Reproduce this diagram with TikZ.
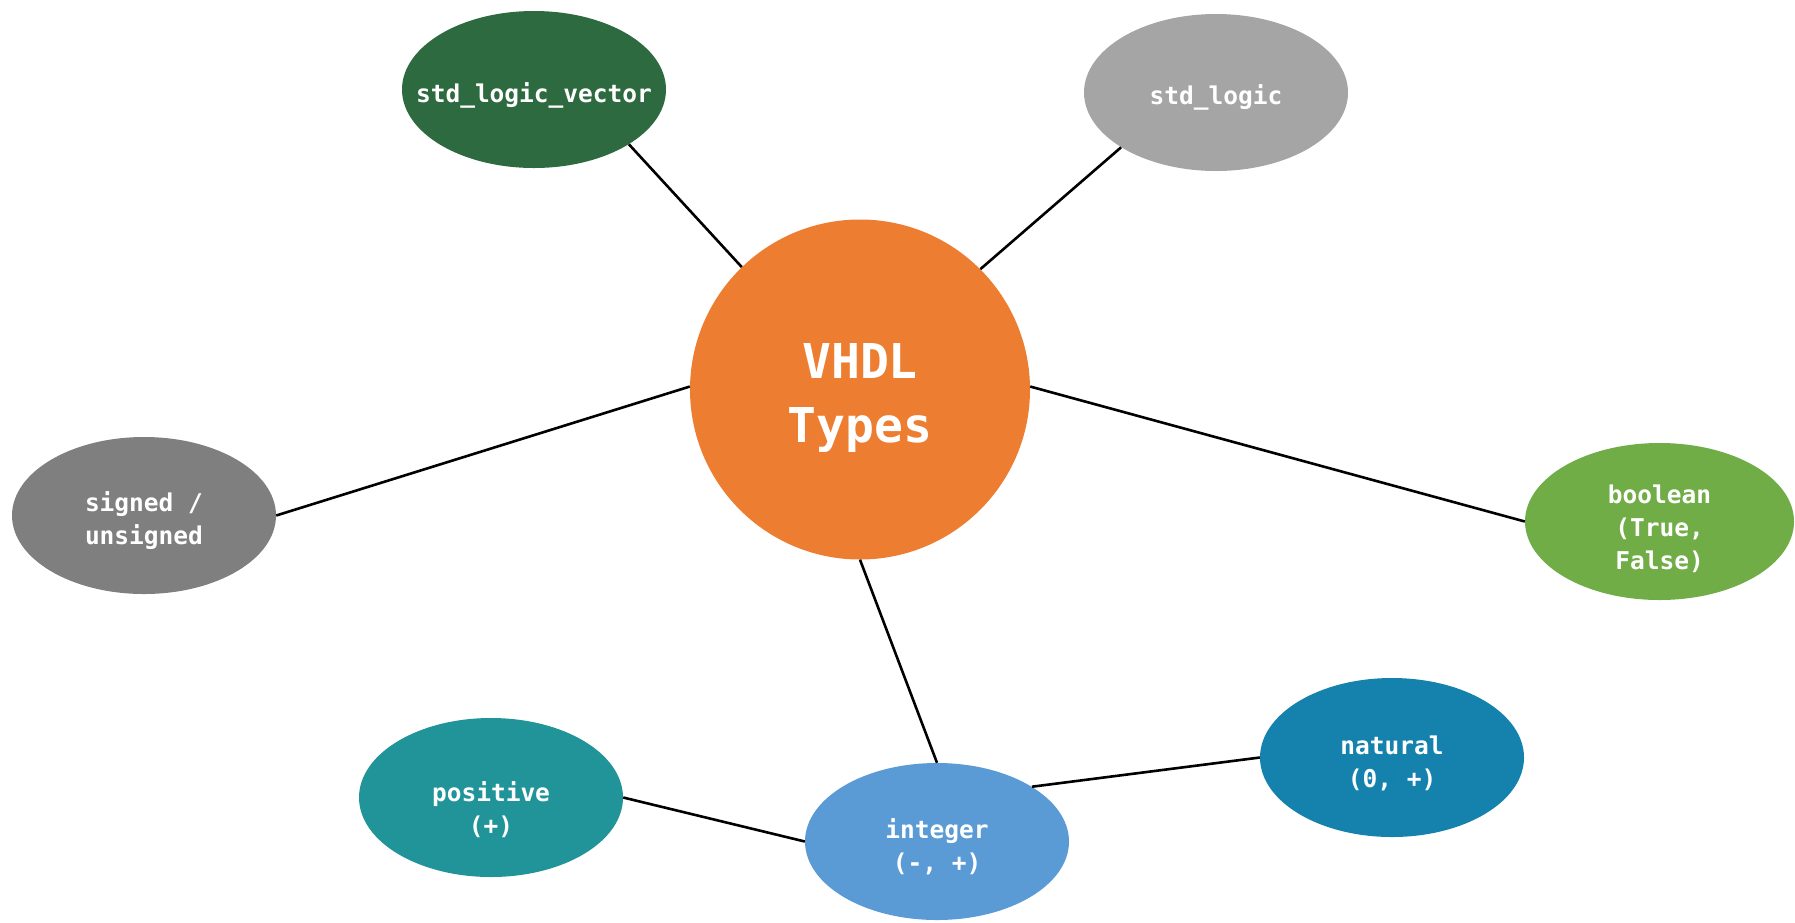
\documentclass[tikz,border=0pt]{standalone}
\usepackage{fontspec}
\newfontfamily\codefont{DejaVu Sans Mono}
\usetikzlibrary{shapes.geometric}

\definecolor{coreorange}{HTML}{ED7D31}
\definecolor{slvgreen}{HTML}{2E6A3F}
\definecolor{slgray}{HTML}{A5A5A5}
\definecolor{sugray}{HTML}{7F7F7F}
\definecolor{boolgreen}{HTML}{70AD47}
\definecolor{posteal}{HTML}{209498}
\definecolor{intblue}{HTML}{5B9BD5}
\definecolor{natblue}{HTML}{1582AE}

\tikzset{
  typebox/.style={ellipse, draw=none, minimum width=264pt, minimum height=157pt, inner sep=0pt},
  typetext/.style={text=white, font=\codefont\bfseries\fontsize{24.5}{33}\selectfont, align=center, yshift=-5pt},
  coretext/.style={text=white, font=\codefont\bfseries\fontsize{48}{64}\selectfont, align=center, yshift=-8pt},
  connector/.style={draw=black, line width=2.6pt},
}

\begin{document}
\begin{tikzpicture}[x=1pt, y=-1pt]
\useasboundingbox (0,0) rectangle (1795,922);

% central topic
\node[circle, fill=coreorange, minimum size=340pt, inner sep=0pt,
      label={[coretext]center:{VHDL\\Types}}] (core) at (860,389.5) {};

% surrounding type bubbles
\node[typebox, fill=slvgreen, label={[typetext, yshift=-1pt]center:{std\_logic\_vector}}] (slv) at (534,89.5) {};
\node[typebox, fill=slgray, label={[typetext]center:{std\_logic}}] (sl) at (1216,92.5) {};
\node[typebox, fill=sugray, label={[typetext]center:{signed /\\unsigned}}] (su) at (144,515.5) {};
\node[typebox, fill=boolgreen, minimum width=269pt, label={[typetext, yshift=-2pt]center:{boolean\\(True,\\False)}}] (bool) at (1659.5,521.5) {};
\node[typebox, fill=posteal, minimum height=159pt, label={[typetext, yshift=-7pt]center:{positive\\(+)}}] (pos) at (491,797.5) {};
\node[typebox, fill=intblue, label={[typetext]center:{integer\\(-, +)}}] (int) at (937,841.5) {};
\node[typebox, fill=natblue, minimum height=159pt, label={[typetext, yshift=-1pt]center:{natural\\(0, +)}}] (nat) at (1392,757.5) {};

% connectors
\draw[connector] (core.134) -- (slv.-30);
\draw[connector] (core.45) -- (sl.210.6);
\draw[connector] (core.179) -- (su.east);
\draw[connector] (core.1) -- (bool.west);
\draw[connector] (core.south) -- (int.north);
\draw[connector] (int.west) -- (pos.east);
\draw[connector] (int.30) -- (nat.west);
\end{tikzpicture}
\end{document}
